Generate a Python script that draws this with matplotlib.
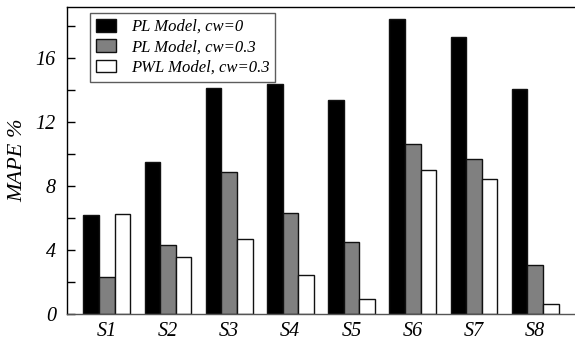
import matplotlib
matplotlib.use("Agg")
import matplotlib.pyplot as plt
import numpy as np
from matplotlib.ticker import MultipleLocator

scenarios = ["S1", "S2", "S3", "S4", "S5", "S6", "S7", "S8"]
pl_cw0 = [6.2, 9.5, 14.15, 14.4, 13.35, 18.45, 17.3, 14.05]
pl_cw03 = [2.3, 4.3, 8.85, 6.3, 4.5, 10.65, 9.7, 3.05]
pwl_cw03 = [6.25, 3.55, 4.7, 2.42, 0.96, 9.0, 8.45, 0.62]
series_labels = ["PL Model, cw=0", "PL Model, cw=0.3", "PWL Model, cw=0.3"]
series_colors = ["#000000", "#808080", "#ffffff"]

plt.rcParams["font.family"] = ["Liberation Serif", "DejaVu Serif"]
plt.rcParams["font.style"] = "italic"

fig = plt.figure(figsize=(5.75, 3.46), dpi=100)
ax = fig.add_axes([0.1165, 0.0925, 0.8835, 0.8875])

x = np.arange(len(scenarios))
width = 0.255
for i, (vals, lab, col) in enumerate(zip([pl_cw0, pl_cw03, pwl_cw03], series_labels, series_colors)):
    ax.bar(x + (i - 1) * width, vals, width, color=col, edgecolor="#111111",
           linewidth=1.0, label=lab)

ax.set_xlim(-0.65, 7.65)
ax.set_ylim(0, 19.2)
ax.set_xticks(x)
ax.set_xticklabels(scenarios, fontsize=14.5, style="italic")
ax.tick_params(axis="x", length=0, pad=6)
ax.yaxis.set_major_locator(MultipleLocator(4))
ax.yaxis.set_minor_locator(MultipleLocator(2))
ax.tick_params(axis="y", which="both", direction="in", length=6, width=1,
               labelsize=14.5, pad=8)
for lbl in ax.get_yticklabels():
    lbl.set_style("italic")
ax.set_ylabel("MAPE %", fontsize=16, style="italic", labelpad=6)

ax.spines["right"].set_visible(False)
for s in ["left", "top", "bottom"]:
    ax.spines[s].set_linewidth(1.0)
ax.spines["bottom"].set_color("#555555")

leg = ax.legend(loc="upper left", bbox_to_anchor=(0.045, 0.98), borderaxespad=0,
                fontsize=12, frameon=True, fancybox=False, edgecolor="#333333",
                handlelength=1.2, handleheight=0.8, handletextpad=0.9,
                labelspacing=0.25, borderpad=0.35)
leg.get_frame().set_linewidth(1.0)
for t in leg.get_texts():
    t.set_style("italic")

fig.savefig("out.png", dpi=100)
